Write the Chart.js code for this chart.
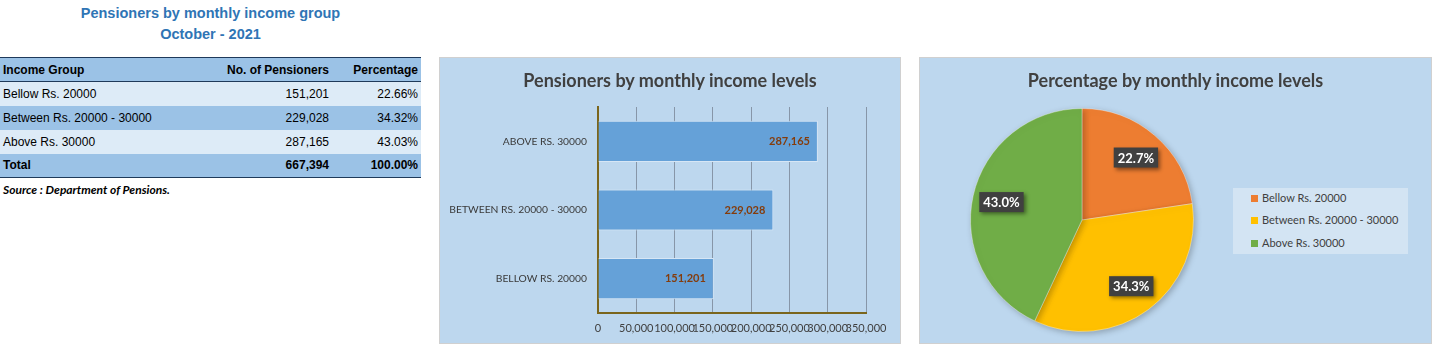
<!DOCTYPE html>
<html>
<head>
<meta charset="utf-8">
<script src="https://cdn.jsdelivr.net/npm/chart.js@4.4.1/dist/chart.umd.min.js"></script>
<style>
  body { margin: 0; background: #fff; width: 1435px; height: 347px; position: relative; overflow: hidden; }
  .head { position: absolute; left: 0; width: 421px; text-align: center; font: bold 14.5px "Liberation Sans", Arial, sans-serif; color: #2f75b5; }
  table.grp { position: absolute; left: 0; top: 57px; width: 421px; border-collapse: collapse; font: 12px "Liberation Sans", Arial, sans-serif; color: #000; table-layout: fixed; }
  table.grp td, table.grp th { height: 24px; padding: 0 3px; box-sizing: border-box; white-space: nowrap; }
  table.grp th { font-weight: bold; background: #9bc2e6; border-top: 1px solid #1f3a5a; border-bottom: 1px solid #1f3a5a; }
  table.grp tr.lite td { background: #ddebf7; }
  table.grp tr.dark td { background: #9bc2e6; }
  table.grp tr.tot td { background: #9bc2e6; font-weight: bold; border-bottom: 1px solid #1f3a5a; }
  .l { text-align: left; } .r { text-align: right; }
  .src { position: absolute; left: 3px; top: 182px; font: italic bold 12px Lato, sans-serif; color: #000; }
  .panel { position: absolute; top: 57px; height: 287px; box-sizing: border-box; border: 1px solid #d0d0d0; background: #bdd7ee; }
  .ptitle { position: absolute; left: 0; right: 0; top: 11px; text-align: center; font: bold 18px Lato, sans-serif; color: #404040; }
  #legend { position: absolute; left: 313px; top: 130px; width: 175px; height: 66px; background: #d3e4f3; font: 11px Lato, sans-serif; color: #404040; }
  #legend div { position: absolute; left: 18px; height: 14px; line-height: 14px; }
  #legend span { display: inline-block; width: 7px; height: 7px; margin-right: 4px; vertical-align: 0px; }
</style>
</head>
<body>
<div class="head" style="top:5px">Pensioners by monthly income group</div>
<div class="head" style="top:26px">October - 2021</div>
<table class="grp" id="tbl"></table>
<div class="src">Source : Department of Pensions.</div>

<div class="panel" style="left:439px; width:462px;">
  <canvas id="barChart" width="460" height="285"></canvas>
  <div class="ptitle">Pensioners by monthly income levels</div>
</div>
<div class="panel" style="left:919px; width:513px;">
  <canvas id="pieChart" width="511" height="285"></canvas>
  <div class="ptitle">Percentage by monthly income levels</div>
  <div id="legend"></div>
</div>

<script>
// Dados da tabela e dos gráficos
const categories = ["Bellow Rs. 20000", "Between Rs. 20000 - 30000", "Above Rs. 30000"];
const pensioners = [151201, 229028, 287165];
const percentages = [22.66, 34.32, 43.03];
const totalPensioners = 667394;
const totalPercent = 100.0;
const xTicks = [0, 50000, 100000, 150000, 200000, 250000, 300000, 350000];
const pieColors = ["#ed7d31", "#ffc000", "#70ad47"];

const fmt = (v) => v.toLocaleString("en-US");

// Tabela
const tbl = document.getElementById("tbl");
let html = '<colgroup><col style="width:200px"><col style="width:132px"><col style="width:89px"></colgroup>';
html += '<tr><th class="l">Income Group</th><th class="r">No. of Pensioners</th><th class="r">Percentage</th></tr>';
categories.forEach((c, i) => {
  html += '<tr class="' + (i % 2 ? "dark" : "lite") + '"><td class="l">' + c + '</td><td class="r">' +
    fmt(pensioners[i]) + '</td><td class="r">' + percentages[i].toFixed(2) + '%</td></tr>';
});
html += '<tr class="tot"><td class="l">Total</td><td class="r">' + fmt(totalPensioners) +
  '</td><td class="r">' + totalPercent.toFixed(2) + '%</td></tr>';
tbl.innerHTML = html;

// Rótulos das barras
const barLabels = {
  id: "barLabels",
  afterDatasetsDraw(chart) {
    const ctx = chart.ctx;
    const meta = chart.getDatasetMeta(0);
    ctx.save();
    ctx.font = "bold 11px Lato, sans-serif";
    ctx.fillStyle = "#843c0c";
    ctx.textAlign = "right";
    ctx.textBaseline = "middle";
    meta.data.forEach((bar, i) => {
      ctx.fillText(fmt(pensioners[i]), bar.x - 8, bar.y);
    });
    ctx.restore();
  }
};

new Chart("barChart", {
  type: "bar",
  data: {
    labels: categories,
    datasets: [{
      data: pensioners,
      backgroundColor: "#65a1d8",
      borderColor: "#d6e6f5",
      borderWidth: 1,
      barPercentage: 0.6,
      categoryPercentage: 1.0
    }]
  },
  options: {
    indexAxis: "y",
    responsive: false,
    animation: false,
    layout: { padding: { top: 49, right: 34, bottom: 0, left: 0 } },
    plugins: { legend: { display: false }, tooltip: { enabled: false } },
    scales: {
      x: {
        min: 0, max: 350000,
        afterBuildTicks: (s) => { s.ticks = xTicks.map((v) => ({ value: v })); },
        afterFit: (s) => { s.height = 30; },
        grid: { color: "#8796a8", drawTicks: false, lineWidth: 1 },
        border: { color: "#7a651c", width: 2 },
        ticks: { autoSkip: false, maxRotation: 0, padding: 9, color: "#404040", font: { family: "Lato", size: 11 }, callback: (v) => fmt(v) }
      },
      y: {
        reverse: true,
        afterFit: (s) => { s.width = 158; },
        grid: { display: false, drawTicks: false },
        border: { color: "#7a651c", width: 2 },
        ticks: { padding: 11, color: "#3a3a3a", font: { family: "Lato", size: 10.3 },
          callback: function (v) { return this.getLabelForValue(v).toUpperCase(); } }
      }
    }
  },
  plugins: [barLabels]
});

// Rótulos do gráfico de pizza
const pieLabels = {
  id: "pieLabels",
  beforeDatasetsDraw(chart) {
    chart.ctx.save();
    chart.ctx.shadowColor = "rgba(0,0,0,0.25)";
    chart.ctx.shadowBlur = 6;
    chart.ctx.shadowOffsetX = 2;
    chart.ctx.shadowOffsetY = 2;
  },
  afterDatasetsDraw(chart) {
    const ctx = chart.ctx;
    ctx.restore();
    const meta = chart.getDatasetMeta(0);
    ctx.save();
    ctx.font = "bold 13px Lato, sans-serif";
    ctx.textAlign = "center";
    ctx.textBaseline = "middle";
    meta.data.forEach((arc, i) => {
      const mid = (arc.startAngle + arc.endAngle) / 2;
      const r = arc.outerRadius * 0.74;
      const x = arc.x + Math.cos(mid) * r;
      const y = arc.y + Math.sin(mid) * r;
      const txt = percentages[i].toFixed(1) + "%";
      const w = ctx.measureText(txt).width + 8;
      const h = 20;
      ctx.shadowColor = "rgba(0,0,0,0.45)";
      ctx.shadowBlur = 4;
      ctx.shadowOffsetX = 2;
      ctx.shadowOffsetY = 2;
      ctx.fillStyle = "#404040";
      ctx.fillRect(x - w / 2, y - h / 2, w, h);
      ctx.shadowColor = "transparent";
      ctx.fillStyle = "#ffffff";
      ctx.fillText(txt, x, y + 1);
    });
    ctx.restore();
  }
};

new Chart("pieChart", {
  type: "pie",
  data: {
    labels: categories,
    datasets: [{
      data: percentages,
      backgroundColor: pieColors,
      borderColor: "rgba(255,255,255,0.35)",
      borderWidth: 1
    }]
  },
  options: {
    responsive: false,
    animation: false,
    layout: { padding: { top: 50, right: 237, bottom: 11, left: 50 } },
    plugins: { legend: { display: false }, tooltip: { enabled: false } }
  },
  plugins: [pieLabels]
});

// Legenda
const legend = document.getElementById("legend");
const legendTops = [3, 25, 48];
categories.forEach((c, i) => {
  const d = document.createElement("div");
  d.style.top = legendTops[i] + "px";
  d.innerHTML = '<span style="background:' + pieColors[i] + '"></span>' + c;
  legend.appendChild(d);
});
</script>
</body>
</html>
